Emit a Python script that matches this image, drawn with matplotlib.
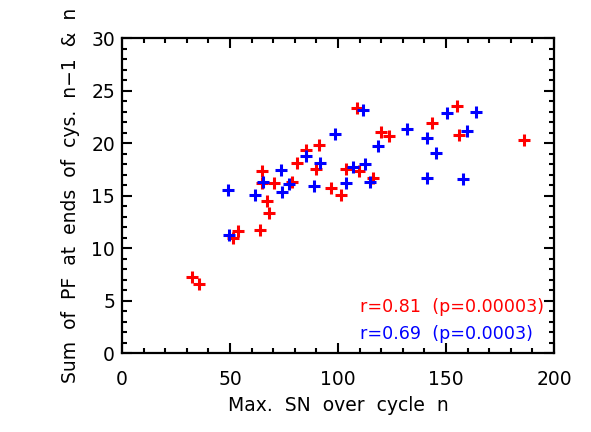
import matplotlib
matplotlib.use("Agg")
import matplotlib.pyplot as plt
from matplotlib.ticker import MultipleLocator

# Red series (cycles n-1 & n)
red_x = [32.6, 35.7, 51.2, 53.9, 63.9, 64.7, 64.7, 67.3, 68.1, 70.4, 78.6, 81.2,
         85.3, 91.2, 89.8, 96.6, 101.2, 103.5, 109.7, 108.9, 116.1, 119.8, 123.8,
         143.5, 154.9, 156.2, 186.1]
red_y = [7.23, 6.57, 10.97, 11.64, 11.7, 17.36, 16.16, 14.52, 13.32, 16.2, 16.27, 18.06,
         19.3, 19.85, 17.55, 15.7, 15.06, 17.49, 17.39, 23.37, 16.71, 21.08, 20.7,
         21.91, 23.56, 20.77, 20.27]

# Blue series
blue_x = [49.5, 48.9, 61.7, 65.4, 73.5, 73.9, 77.3, 85.0, 88.7, 91.8, 98.5, 103.5,
          107.0, 111.7, 112.6, 114.8, 118.3, 132.1, 141.2, 141.3, 145.2, 150.3,
          157.7, 159.6, 163.9]
blue_y = [11.23, 15.54, 15.06, 16.33, 17.44, 15.38, 16.08, 18.82, 15.92, 18.08, 20.89, 16.18,
          17.68, 23.18, 17.98, 16.27, 19.77, 21.34, 20.46, 16.68, 19.09, 22.86,
          16.56, 21.15, 22.93]

red_label = "r=0.81  (p=0.00003)"
blue_label = "r=0.69  (p=0.0003)"
xlabel = "Max.  SN  over  cycle  n"
ylabel = "Sum  of  PF  at  ends  of  cys.  n\u22121  &  n"

plt.rcParams['font.family'] = ['DejaVu Sans']
FS = 13.5
FS_TXT = 12.6

fig = plt.figure(figsize=(5.91, 4.32), dpi=100)
ax = fig.add_axes([122/591, 1-353.3/432, (554-122)/591, (353.3-38)/432])

ax.plot(red_x, red_y, linestyle='none', marker='+', color='#ff0000',
        markersize=8, markeredgewidth=2.2)
ax.plot(blue_x, blue_y, linestyle='none', marker='+', color='#0000ff',
        markersize=8, markeredgewidth=2.2)

ax.set_xlim(0, 200)
ax.set_ylim(0, 30)
ax.xaxis.set_major_locator(MultipleLocator(50))
ax.xaxis.set_minor_locator(MultipleLocator(10))
ax.yaxis.set_major_locator(MultipleLocator(5))
ax.yaxis.set_minor_locator(MultipleLocator(1))
ax.tick_params(which='both', direction='in', top=True, right=True,
               width=1.5, colors='black', labelsize=FS)
ax.tick_params(which='major', length=7)
ax.tick_params(which='minor', length=3.5)
ax.tick_params(axis='x', which='both', pad=12)
ax.tick_params(axis='y', which='both', pad=5)
for s in ax.spines.values():
    s.set_linewidth(1.6)

ax.set_xlabel(xlabel, fontsize=FS, labelpad=5)
ax.set_ylabel(ylabel, fontsize=FS, labelpad=8)

ax.text((360-122)/432, (353.3-311.5)/315.3, red_label, transform=ax.transAxes,
        color='#ff0000', fontsize=FS_TXT, ha='left', va='baseline')
ax.text((360-122)/432, (353.3-339)/315.3, blue_label, transform=ax.transAxes,
        color='#0000ff', fontsize=FS_TXT, ha='left', va='baseline')

fig.savefig("out.png", dpi=100)
